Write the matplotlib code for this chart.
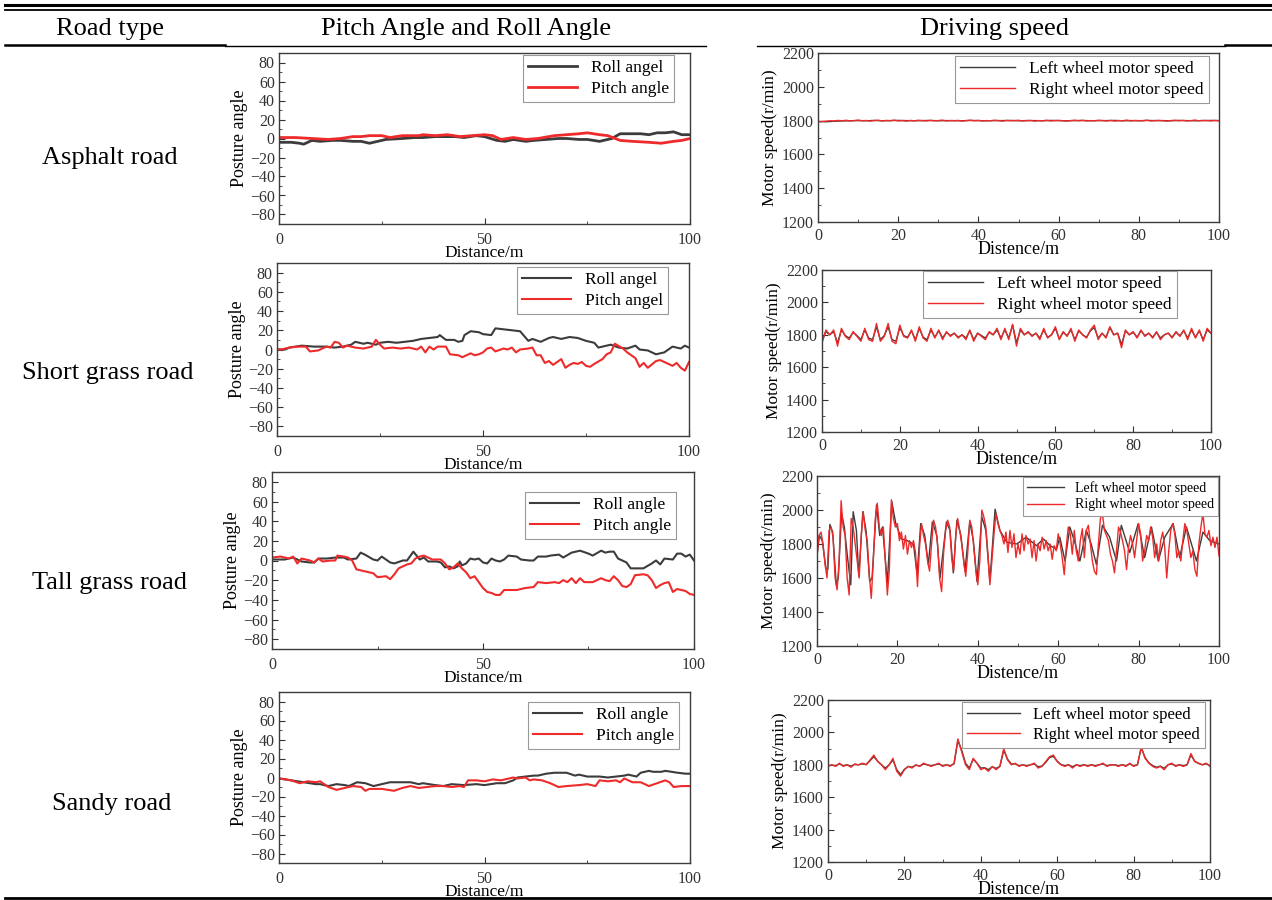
import numpy as np
import matplotlib
matplotlib.use("Agg")
import matplotlib.pyplot as plt
from matplotlib.lines import Line2D
from matplotlib.ticker import MultipleLocator

plt.rcParams["font.family"] = ["Liberation Serif", "DejaVu Serif"]

# ---------------- data ----------------
row_names = ["Asphalt road", "Short grass road", "Tall grass road", "Sandy road"]
col_names = ["Road type", "Pitch Angle and Roll Angle", "Driving speed"]

# posture angle: (distance, angle)
asphalt_roll = [(0, -4), (3, -4), (5, -5), (6, -6), (8, -2), (10, -3), (13, -2), (15, -2), (18, -3),
                (20, -3), (22, -5), (24, -3), (26, -1), (30, 0), (33, 1), (35, 1), (38, 2), (40, 2),
                (43, 2), (45, 1), (48, 3), (50, 2), (53, -2), (55, -3), (57, -1), (60, -3), (62, -2),
                (65, -1), (68, 0), (70, 0), (73, -1), (75, -1), (78, -3), (81, 0), (83, 5), (86, 5),
                (88, 5), (90, 4), (92, 6), (94, 6), (96, 7), (98, 4), (100, 4)]
asphalt_pitch = [(0, 1), (4, 1), (8, 0), (12, -1), (15, 0), (18, 2), (20, 2), (22, 3), (25, 3), (27, 1),
                 (30, 3), (34, 3), (35, 4), (38, 3), (41, 4), (44, 2), (47, 3), (50, 4), (52, 3),
                 (54, -1), (57, 1), (60, -1), (63, 0), (67, 3), (70, 4), (73, 5), (75, 6), (78, 4),
                 (80, 3), (83, -2), (86, -3), (90, -4), (93, -5), (96, -3), (98, -2), (100, 0)]

short_roll = [(0, 0), (2, 0), (3, 2), (6, 4), (9, 3), (12, 3), (14, 2), (16, 3), (18, 5), (19, 8),
              (21, 6), (22, 7), (24, 5), (25, 7), (27, 8), (29, 7), (31, 8), (33, 9), (35, 11), (37, 12),
              (39, 13), (39.5, 15), (41, 10), (43, 10), (44, 8), (45, 9), (45.5, 15), (47, 19), (49, 18),
              (50, 16), (52, 15), (53, 22), (55, 21), (57, 20), (59, 19), (60, 14), (61, 9), (62, 11),
              (64, 8), (66, 12), (67, 13), (69, 11), (71, 13), (73, 12), (75, 9), (77, 7), (78, 2),
              (80, 4), (81, 5), (83, 2), (85, 1), (87, 4), (88, 0), (90, -1), (92, -5), (94, -3),
              (96, 3), (98, 1), (99, 4), (100, 2)]
short_pitch = [(0, 0), (1, 0), (3, 2), (5, 3), (7, 3), (8, -2), (10, -1), (12, 3), (13, 2), (14, 8),
               (15, 7), (16, 2), (17, 4), (19, 2), (21, 1), (23, 3), (24, 10), (25, 5), (26, 1), (28, 2),
               (30, 1), (32, 2), (34, 0), (35, 3), (36, -3), (37, 3), (38, 0), (39, 3), (41, 3), (42, -5),
               (44, -6), (45, -8), (46, -6), (47, -4), (48, -6), (49, -5), (50, -3), (51, 1), (52, 2),
               (53, -2), (55, 1), (56, 0), (57, 2), (58, -3), (59, 0), (61, 1), (62, 2), (63, -6),
               (64, -6), (65, -14), (66, -12), (67, -16), (68, -13), (69, -10), (70, -19), (71, -16),
               (72, -14), (73, -15), (74, -13), (75, -17), (76, -18), (77, -15), (79, -10), (80, -5),
               (81, -3), (82, 6), (84, 1), (85, -3), (86, -6), (87, -9), (88, -18), (89, -14), (90, -19),
               (92, -12), (93, -11), (95, -15), (96, -17), (97, -14), (98, -19), (99, -22), (100, -13)]

tall_roll = [(0, 1), (3, 1), (5, 3), (7, -1), (9, -2), (10, -2), (11, 2), (13, 2), (15, 3), (17, 3),
             (18, 1), (20, 2), (21, 8), (22, 6), (24, 1), (25, 0), (26, 4), (28, -2), (29, -3), (31, 0),
             (32, 0), (33, 6), (33.5, 9), (35, 1), (36, 3), (37, -1), (39, -1), (40, -2), (41, -7),
             (42, -6), (43, -8), (44, -6), (44.5, -1), (45, -5), (46, -3), (47, 2), (48, 1), (49, 2),
             (50, -2), (51, -3), (52, 2), (53, 0), (54, -1), (55, 1), (56, 5), (58, 4), (59, 1), (61, 0),
             (62, 0), (63, 4), (65, 4), (66, 5), (68, 6), (69, 3), (71, 8), (73, 10), (75, 7), (76, 5),
             (78, 10), (79, 8), (80, 9), (81, 9), (82, 2), (84, -2), (85, -8), (87, -8), (88, -8),
             (90, -3), (91, 0), (92, -4), (93, 2), (95, 1), (96, 7), (97, 7), (98, 4), (99, 6), (100, 0)]
tall_pitch = [(0, 3), (2, 4), (4, 2), (5, 4), (6, -3), (7, 2), (9, 0), (10, -2), (11, 2), (12, -1),
              (14, 0), (15, 0), (15.5, 5), (17, 4), (18, 3), (19, 0), (20, -9), (22, -11), (24, -13),
              (25, -17), (27, -16), (28, -19), (29, -14), (30, -8), (32, -4), (33, -3), (34, 2), (35, 4),
              (36, 5), (37, 3), (38, 1), (40, 1), (41, -3), (42, -9), (43, -7), (44, -3), (45, -8),
              (46, -12), (47, -18), (48, -16), (49, -22), (50, -28), (51, -32), (52, -33), (53, -35),
              (54, -35), (55, -30), (57, -30), (58, -30), (60, -28), (62, -27), (63, -22), (65, -23),
              (67, -22), (68, -23), (69, -20), (70, -22), (71, -18), (72, -23), (73, -18), (74, -22),
              (76, -22), (78, -18), (79, -20), (80, -21), (81, -16), (82, -20), (83, -26), (84, -27),
              (85, -24), (86, -15), (88, -14), (89, -15), (90, -20), (91, -28), (92, -25), (93, -23),
              (94, -22), (95, -32), (96, -29), (97, -30), (98, -31), (99, -34), (100, -35)]

sandy_roll = [(0, -1), (3, -3), (6, -5), (9, -7), (10, -7), (12, -9), (14, -7), (16, -8), (17, -9),
              (19, -5), (21, -6), (23, -9), (25, -7), (27, -5), (30, -5), (32, -5), (34, -7), (35, -6),
              (38, -8), (40, -9), (42, -7), (45, -8), (48, -7), (50, -8), (53, -6), (55, -6), (57, -3),
              (58, 0), (60, 1), (62, 2), (63, 2), (65, 4), (67, 5), (70, 5), (72, 2), (73, 3), (75, 1),
              (78, 1), (80, 0), (82, 1), (84, 2), (85, 3), (87, 1), (88, 5), (90, 7), (91, 6), (93, 6),
              (94, 7), (97, 5), (99, 4), (100, 4)]
sandy_pitch = [(0, -1), (3, -3), (5, -6), (7, -4), (9, -5), (10, -4), (12, -10), (14, -13), (16, -11),
               (18, -9), (20, -10), (21, -14), (22, -12), (25, -12), (28, -14), (30, -11), (32, -9),
               (34, -11), (36, -10), (38, -9), (40, -9), (42, -10), (44, -9), (45, -10), (46, -3),
               (48, -3), (50, -4), (52, -2), (54, -3), (57, 0), (58, -1), (60, 0), (61, -3), (62, -2),
               (64, -3), (66, -6), (68, -10), (70, -9), (73, -8), (75, -7), (77, -9), (78, -3), (80, -4),
               (82, -3), (83, -5), (84, -1), (86, -5), (88, -5), (90, -9), (92, -6), (94, -3), (95, -5),
               (96, -10), (98, -9), (100, -9)]

# motor speed (r/min), evenly spaced over 0..100 m
asphalt_left = [1795, 1793, 1796, 1798, 1799, 1800, 1799, 1801, 1799, 1800, 1801, 1800, 1799, 1800, 1801,
                1799, 1800, 1800, 1799, 1801, 1800, 1799, 1800, 1800, 1801, 1799, 1800, 1800, 1799, 1801,
                1800, 1799, 1800, 1801, 1799, 1800, 1800, 1801, 1799, 1800, 1799, 1801, 1800, 1800, 1799,
                1801, 1800, 1799, 1800, 1801, 1800]
asphalt_right = [1792, 1795, 1797, 1799, 1798, 1801, 1799, 1802, 1798, 1800, 1803, 1799, 1801, 1797, 1800,
                 1802, 1798, 1801, 1799, 1803, 1798, 1800, 1797, 1801, 1799, 1802, 1800, 1798, 1801, 1799,
                 1800, 1803, 1798, 1800, 1799, 1801, 1797, 1800, 1802, 1799, 1801, 1798, 1800, 1799, 1802,
                 1800, 1797, 1801, 1799, 1800, 1802, 1798, 1800, 1801, 1797, 1800, 1799, 1802, 1798, 1800,
                 1801, 1799, 1797, 1800, 1802, 1799, 1801, 1798, 1800, 1799, 1802, 1800, 1798, 1801, 1797,
                 1800, 1799, 1803, 1798, 1801, 1800, 1799, 1802, 1798, 1800, 1801, 1799, 1797, 1800, 1802,
                 1799, 1801, 1798, 1800, 1803, 1799, 1801, 1800, 1798, 1801, 1799]

short_left = [1760, 1820, 1800, 1820, 1750, 1830, 1795, 1780, 1815, 1795, 1770, 1830, 1780, 1770, 1850,
              1770, 1795, 1850, 1770, 1760, 1845, 1795, 1785, 1825, 1770, 1840, 1785, 1770, 1830, 1785,
              1825, 1780, 1815, 1795, 1810, 1785, 1800, 1780, 1825, 1770, 1810, 1795, 1780, 1815, 1800,
              1830, 1780, 1830, 1780, 1860, 1750, 1830, 1800, 1815, 1795, 1810, 1780, 1830, 1785, 1800,
              1840, 1775, 1815, 1795, 1830, 1770, 1825, 1800, 1785, 1825, 1845, 1780, 1810, 1785, 1845,
              1800, 1810, 1740, 1825, 1800, 1815, 1785, 1825, 1795, 1810, 1785, 1815, 1780, 1800, 1810,
              1785, 1815, 1795, 1825, 1780, 1830, 1785, 1825, 1770, 1830, 1810]
short_right = [1750, 1830, 1800, 1830, 1730, 1840, 1790, 1770, 1820, 1790, 1760, 1840, 1770, 1760, 1870,
               1760, 1790, 1870, 1760, 1745, 1860, 1790, 1780, 1830, 1760, 1850, 1780, 1760, 1840, 1780,
               1830, 1770, 1820, 1790, 1810, 1780, 1800, 1770, 1830, 1760, 1810, 1790, 1770, 1820, 1800,
               1840, 1770, 1840, 1770, 1865, 1730, 1840, 1800, 1820, 1790, 1810, 1770, 1840, 1780, 1800,
               1850, 1770, 1820, 1790, 1840, 1760, 1830, 1800, 1780, 1830, 1860, 1770, 1810, 1780, 1850,
               1800, 1810, 1720, 1830, 1800, 1820, 1780, 1830, 1790, 1810, 1780, 1820, 1770, 1800, 1810,
               1780, 1820, 1790, 1830, 1770, 1840, 1780, 1830, 1760, 1840, 1810]

tall_left = [(0, 1735), (0.6, 1850), (1.3, 1820), (2.2, 1660), (2.7, 1650), (3.2, 1915), (3.9, 1870),
             (4.8, 1560), (5.3, 1600), (6.1, 1980), (6.8, 1900), (7.6, 1720), (8.4, 1560), (9.0, 1990),
             (9.8, 1880), (10.4, 1610), (11.4, 1990), (12.2, 1880), (13.1, 1580), (13.7, 1600),
             (14.8, 2030), (15.6, 1850), (16.3, 1900), (17.5, 1570), (18.6, 2050), (19.6, 1920),
             (21.0, 1830), (22.4, 1820), (24.0, 1800), (24.9, 1620), (25.8, 1920), (26.8, 1850),
             (27.7, 1680), (28.7, 1930), (29.8, 1850), (30.6, 1600), (32.2, 1930), (33.1, 1880),
             (33.9, 1630), (34.8, 1940), (35.8, 1850), (36.8, 1640), (38.0, 1930), (38.9, 1820),
             (39.8, 1580), (41.0, 1960), (42.0, 1880), (43.0, 1580), (44.3, 2005), (45.5, 1880),
             (47.2, 1810), (49.7, 1800), (52.0, 1840), (54.6, 1790), (56.3, 1830), (58.0, 1790),
             (59.6, 1770), (60.4, 1840), (61.7, 1700), (62.9, 1900), (64.0, 1820), (65.4, 1700),
             (67.0, 1880), (68.2, 1800), (69.5, 1680), (71.0, 1910), (72.8, 1840), (74.5, 1700),
             (75.7, 1910), (77.8, 1750), (79.9, 1920), (81.5, 1720), (83.2, 1900), (84.9, 1700),
             (86.5, 1840), (88.6, 1920), (90.2, 1720), (91.9, 1900), (94.4, 1700), (96.0, 1870),
             (97.7, 1820), (100, 1800)]
tall_right = [1730, 1850, 1870, 1800, 1680, 1600, 1880, 1900, 1840, 1600, 1530, 1700, 2055, 1900, 1850,
              1600, 1500, 1950, 1900, 1800, 1700, 1600, 1850, 1990, 1880, 1820, 1620, 1480, 1700, 1950,
              2040, 1900, 1850, 1900, 1700, 1500, 1650, 2060, 1950, 1900, 1920, 1820, 1870, 1770, 1850,
              1740, 1820, 1780, 1820, 1750, 1550, 1780, 1920, 1850, 1800, 1700, 1640, 1800, 1940, 1900,
              1800, 1600, 1520, 1750, 1880, 1940, 1900, 1720, 1640, 1850, 1950, 1880, 1800, 1700, 1610,
              1750, 1940, 1900, 1780, 1650, 1560, 1700, 2000, 1960, 1900, 1750, 1560, 1700, 1850, 1980,
              1920, 1880, 1850, 1800, 1870, 1750, 1880, 1780, 1860, 1720, 1800, 1740, 1860, 1760, 1850,
              1800, 1830, 1720, 1820, 1700, 1800, 1760, 1840, 1770, 1820, 1760, 1800, 1710, 1790, 1760,
              1860, 1800, 1720, 1620, 1780, 1900, 1860, 1740, 1880, 1760, 1700, 1820, 1890, 1720, 1880,
              1910, 1800, 1700, 1640, 1620, 1800, 1950, 1980, 1880, 1850, 1820, 1740, 1700, 1630, 1760,
              1900, 1870, 1820, 1760, 1650, 1780, 1850, 1800, 1720, 1820, 1920, 1860, 1700, 1760, 1850,
              1820, 1900, 1840, 1720, 1800, 1700, 1820, 1870, 1780, 1600, 1760, 1880, 1920, 1860, 1720,
              1760, 1700, 1820, 1920, 1880, 1800, 1720, 1760, 1650, 1610, 1800, 1900, 1980, 1860, 1840,
              1880, 1790, 1840, 1780, 1840, 1730]

sandy_left = [1795, 1798, 1795, 1805, 1795, 1800, 1792, 1802, 1800, 1806, 1802, 1825, 1850, 1822, 1800,
              1780, 1800, 1830, 1770, 1740, 1772, 1790, 1785, 1798, 1792, 1805, 1800, 1795, 1800, 1805,
              1795, 1800, 1795, 1805, 1950, 1890, 1810, 1780, 1835, 1810, 1780, 1782, 1770, 1788, 1778,
              1790, 1890, 1835, 1805, 1806, 1795, 1800, 1795, 1800, 1805, 1788, 1792, 1815, 1845, 1852,
              1822, 1802, 1795, 1800, 1788, 1800, 1795, 1800, 1795, 1800, 1795, 1800, 1805, 1795, 1800,
              1800, 1795, 1800, 1795, 1805, 1795, 1800, 1905, 1845, 1812, 1795, 1785, 1792, 1778, 1800,
              1805, 1795, 1800, 1795, 1800, 1860, 1822, 1808, 1800, 1806, 1795]
sandy_right = [1790, 1800, 1790, 1810, 1790, 1800, 1785, 1805, 1800, 1810, 1800, 1830, 1860, 1820, 1800,
               1770, 1800, 1840, 1760, 1730, 1770, 1790, 1780, 1800, 1790, 1810, 1800, 1790, 1800, 1810,
               1790, 1800, 1790, 1810, 1960, 1880, 1800, 1770, 1840, 1810, 1770, 1780, 1760, 1790, 1770,
               1790, 1900, 1830, 1800, 1810, 1790, 1800, 1790, 1800, 1810, 1780, 1790, 1820, 1850, 1860,
               1820, 1800, 1790, 1800, 1780, 1800, 1790, 1800, 1790, 1800, 1790, 1800, 1810, 1790, 1800,
               1800, 1790, 1800, 1790, 1810, 1790, 1800, 1910, 1840, 1810, 1790, 1780, 1790, 1770, 1800,
               1810, 1790, 1800, 1790, 1800, 1870, 1820, 1810, 1800, 1810, 1790]

posture_labels = [("Roll angel", "Pitch angle"), ("Roll angel", "Pitch angel"),
                  ("Roll angle", "Pitch angle"), ("Roll angle", "Pitch angle")]
speed_labels = ("Left wheel motor speed", "Right wheel motor speed")

# ---------------- figure ----------------
W, H = 1272, 900
fig = plt.figure(figsize=(W / 100, H / 100), dpi=100)

DARK = "#3c3c3c"
RED = "#ee2a2a"
TXT = "#333333"


def add_ax(l, t, r, b):
    return fig.add_axes([l / W, 1 - b / H, (r - l) / W, (b - t) / H])


def leg_anchor(box, right, top):
    l, t, r, b = box
    return ((right - l) / (r - l), (b - top) / (b - t))


def style(ax, xmaj, xmin, ymaj, ymin, xpad):
    ax.xaxis.set_major_locator(MultipleLocator(xmaj))
    ax.xaxis.set_minor_locator(MultipleLocator(xmin))
    ax.yaxis.set_major_locator(MultipleLocator(ymaj))
    ax.yaxis.set_minor_locator(MultipleLocator(ymin))
    ax.tick_params(which="both", direction="in", colors=TXT, labelsize=11.5)
    ax.tick_params(which="major", length=4)
    ax.tick_params(which="minor", length=2.5)
    ax.tick_params(axis="x", pad=xpad)
    ax.tick_params(axis="y", pad=3)
    for s in ax.spines.values():
        s.set_color(DARK)
        s.set_linewidth(1.0)


def posture_panel(box, roll, pitch, labels, leg_rt, lw):
    ax = add_ax(*box)
    r = np.array(roll)
    p = np.array(pitch)
    ax.plot(r[:, 0], r[:, 1], color=DARK, lw=lw, label=labels[0])
    ax.plot(p[:, 0], p[:, 1], color=RED, lw=lw, label=labels[1])
    ax.set_xlim(0, 100)
    ax.set_ylim(-90, 90)
    style(ax, 50, 25, 20, 10, 6)
    ax.set_xlabel("Distance/m", fontsize=12.5, labelpad=-2.5)
    ax.set_ylabel("Posture angle", fontsize=13, labelpad=1)
    leg = ax.legend(loc="upper right", bbox_to_anchor=leg_anchor(box, *leg_rt), borderaxespad=0,
                    fontsize=12.5, handlelength=2.8, labelspacing=0.25, borderpad=0.3,
                    fancybox=False, framealpha=1)
    leg.get_frame().set_edgecolor("#999999")
    leg.get_frame().set_linewidth(0.8)
    return ax


def speed_panel(box, x_left, left, x_right, right, leg_rt, fs, hl):
    ax = add_ax(*box)
    ax.plot(x_left, left, color=DARK, lw=1.0, label=speed_labels[0])
    ax.plot(x_right, right, color=RED, lw=1.0, label=speed_labels[1])
    ax.set_xlim(0, 100)
    ax.set_ylim(1200, 2200)
    style(ax, 20, 10, 200, 100, 4)
    ax.set_xlabel("Distence/m", fontsize=13, labelpad=-2)
    ax.set_ylabel("Motor speed(r/min)", fontsize=12.5, labelpad=3)
    leg = ax.legend(loc="upper right", bbox_to_anchor=leg_anchor(box, *leg_rt), borderaxespad=0,
                    fontsize=fs, handlelength=hl, labelspacing=0.25, borderpad=0.3,
                    fancybox=False, framealpha=1)
    leg.get_frame().set_edgecolor("#999999")
    leg.get_frame().set_linewidth(0.8)
    return ax


def even(vals):
    return np.linspace(0, 100, len(vals)), np.array(vals)


# left column: posture angle
posture_panel((279, 53, 690, 224), asphalt_roll, asphalt_pitch, posture_labels[0], (674, 55), 2.0)
posture_panel((277, 263, 689, 436), short_roll, short_pitch, posture_labels[1], (668, 267), 1.5)
posture_panel((272, 472, 694, 649), tall_roll, tall_pitch, posture_labels[2], (676, 492), 1.5)
posture_panel((279, 692, 690, 863), sandy_roll, sandy_pitch, posture_labels[3], (679, 702), 1.5)

# right column: motor speed
xa, ya = even(asphalt_left)
xb, yb = even(asphalt_right)
speed_panel((818, 53, 1219, 222), xa, ya, xb, yb, (1209, 56), 12.5, 3.2)
xa, ya = even(short_left)
xb, yb = even(short_right)
speed_panel((822, 270, 1211, 432), xa, ya, xb, yb, (1177, 271), 12.5, 3.2)
tl = np.array(tall_left)
xb, yb = even(tall_right)
speed_panel((817, 476, 1219, 646), tl[:, 0], tl[:, 1], xb, yb, (1218, 477), 10, 2.6)
xa, ya = even(sandy_left)
xb, yb = even(sandy_right)
speed_panel((828, 700, 1210, 862), xa, ya, xb, yb, (1205, 702), 12, 3.2)

# ---------------- table frame ----------------
def hline(x0, x1, y, lw):
    fig.add_artist(Line2D([x0 / W, x1 / W], [1 - y / H, 1 - y / H], color="black", lw=lw))


hline(5, 1272, 5, 2.2)
hline(5, 1272, 10, 1.3)
hline(5, 225, 45, 1.8)
hline(225, 706, 46, 1.0)
hline(757, 1225, 46, 1.0)
hline(1225, 1272, 45, 1.8)
hline(5, 1272, 898, 2.0)

fig.text(110 / W, 1 - 29 / H, col_names[0], ha="center", va="center", fontsize=19)
fig.text(466 / W, 1 - 29 / H, col_names[1], ha="center", va="center", fontsize=19)
fig.text(995 / W, 1 - 29 / H, col_names[2], ha="center", va="center", fontsize=19)

row_y = [158, 373, 583, 804]
row_x = [110, 108, 110, 112]
for name, x, y in zip(row_names, row_x, row_y):
    fig.text(x / W, 1 - y / H, name, ha="center", va="center", fontsize=19)

fig.savefig("out.png", dpi=100)
